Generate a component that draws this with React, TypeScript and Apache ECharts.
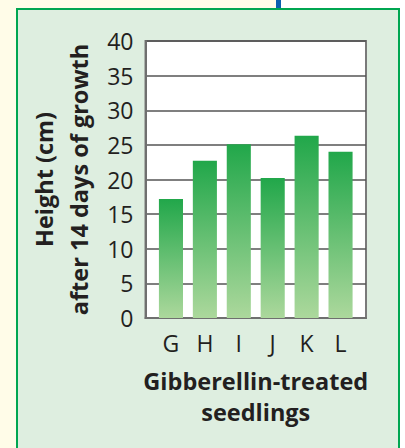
import React, { useEffect, useRef } from "react";
import * as echarts from "echarts";

const categories = ["G", "H", "I", "J", "K", "L"];
const heights = [17.2, 22.7, 25.1, 20.2, 26.3, 24.0];
const yTicks = { min: 0, max: 40, interval: 5 };
const yTitle = "Height (cm)\nafter 14 days of growth";
const xTitle = "Gibberellin-treated\nseedlings";

const FONT = "'Open Sans', 'Noto Sans', sans-serif";

export default function App() {
  const ref = useRef<HTMLDivElement>(null);
  useEffect(() => {
    if (!ref.current) return;
    const chart = echarts.init(ref.current, undefined, { renderer: "svg" });
    chart.setOption({
      animation: false,
      grid: [
        {
          left: 145.5,
          right: 39,
          top: 41,
          bottom: 130,
          show: true,
          backgroundColor: "#ffffff",
          borderColor: "#7a7a7a",
          borderWidth: 2,
        },
        { left: 154, right: 47.5, top: 41, bottom: 130 },
      ],
      xAxis: [
        {
          gridIndex: 0,
          type: "category",
          data: categories,
          axisTick: { show: false },
          axisLabel: { show: false },
          axisLine: { show: true, lineStyle: { color: "#6f6f6f", width: 2 } },
        },
        {
          gridIndex: 1,
          type: "category",
          data: categories,
          axisTick: { show: false },
          axisLine: { show: false },
          axisLabel: { fontSize: 23, color: "#231f20", margin: 13, fontFamily: FONT },
          name: xTitle,
          nameLocation: "middle",
          nameGap: 47,
          nameTextStyle: {
            fontSize: 23.5,
            fontWeight: "bold",
            color: "#231f20",
            lineHeight: 31,
            fontFamily: FONT,
          },
        },
      ],
      yAxis: [
        {
          gridIndex: 0,
          type: "value",
          min: yTicks.min,
          max: yTicks.max,
          interval: yTicks.interval,
          axisLine: { show: true, lineStyle: { color: "#6f6f6f", width: 2 } },
          axisTick: { show: false },
          splitLine: { show: true, lineStyle: { color: "#555555", width: 1.5 } },
          axisLabel: { fontSize: 23, color: "#231f20", margin: 12, fontFamily: FONT },
          name: yTitle,
          nameLocation: "middle",
          nameRotate: 90,
          nameGap: 46,
          nameTextStyle: {
            fontSize: 23.5,
            fontWeight: "bold",
            color: "#231f20",
            lineHeight: 35,
            fontFamily: FONT,
          },
        },
        {
          gridIndex: 1,
          type: "value",
          min: yTicks.min,
          max: yTicks.max,
          interval: yTicks.interval,
          show: false,
          splitLine: { show: false },
        },
      ],
      series: [
        {
          type: "bar",
          xAxisIndex: 1,
          yAxisIndex: 1,
          data: heights,
          barWidth: "71%",
          itemStyle: {
            color: new echarts.graphic.LinearGradient(0, 0, 0, 1, [
              { offset: 0, color: "#21a74a" },
              { offset: 1, color: "#acd89c" },
            ]),
          },
        },
      ],
    });
    return () => chart.dispose();
  }, []);

  return (
    <div
      style={{
        position: "fixed",
        left: 0,
        top: 0,
        width: 405,
        height: 448,
        background: "#fffce8",
        overflow: "hidden",
      }}
    >
      <div style={{ position: "absolute", left: 281, top: 0, width: 124, height: 448, background: "#ffffff" }} />
      <div style={{ position: "absolute", left: 276, top: 0, width: 5, height: 9, background: "#0a5fae" }} />
      <div
        style={{
          position: "absolute",
          left: 16,
          top: 8,
          width: 384,
          height: 460,
          boxSizing: "border-box",
          border: "2px solid #00a651",
          background: "#deeee0",
        }}
      />
      <div ref={ref} style={{ position: "absolute", left: 0, top: 0, width: 405, height: 448 }} />
    </div>
  );
}
